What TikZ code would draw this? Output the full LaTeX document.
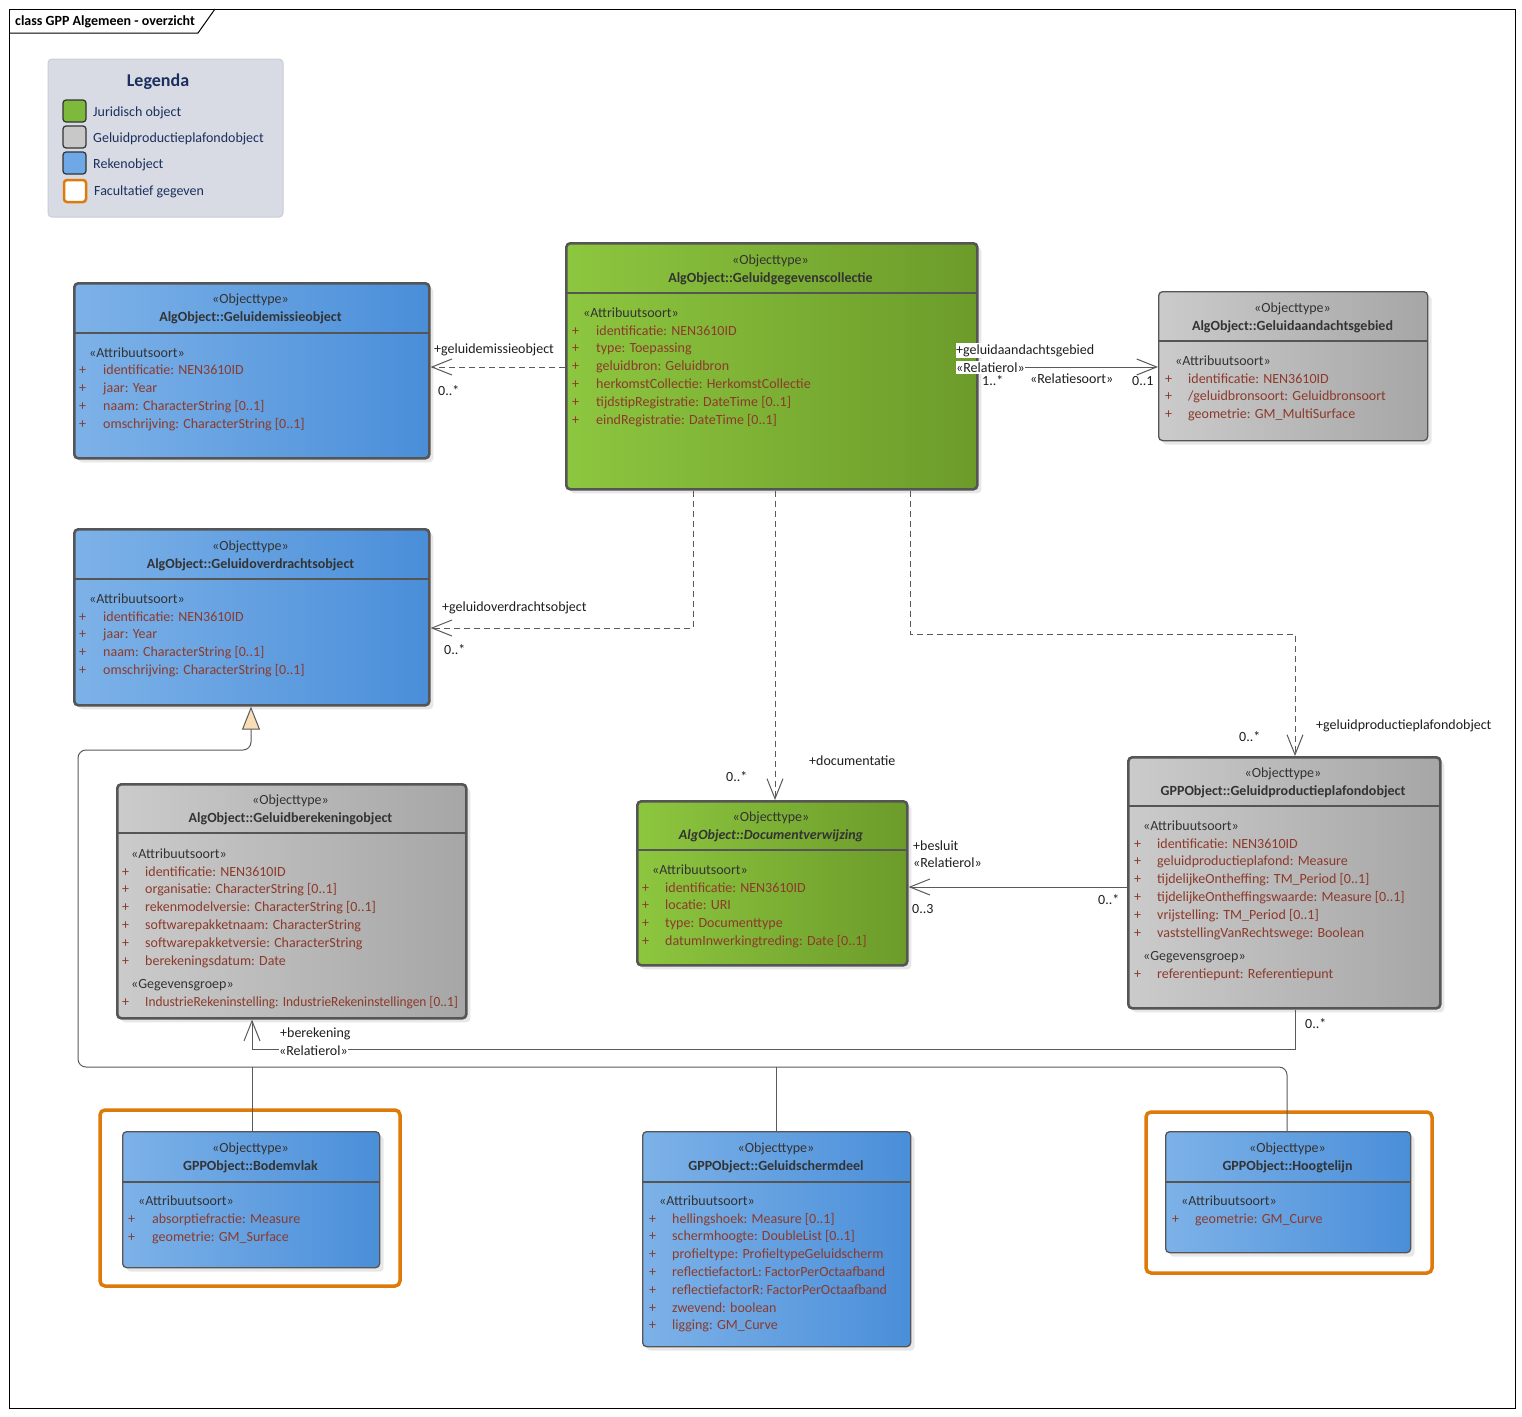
\documentclass[tikz,border=0pt]{standalone}
\usepackage{fontspec}
\setmainfont{Carlito}
\usetikzlibrary{arrows.meta,shadows}
\definecolor{blueL}{HTML}{7DB2E8}
\definecolor{blueR}{HTML}{4A8ED9}
\definecolor{greenL}{HTML}{8DC63F}
\definecolor{greenR}{HTML}{6C9B2A}
\definecolor{grayL}{HTML}{CBCBCB}
\definecolor{grayR}{HTML}{A6A6A6}
\definecolor{bordercol}{HTML}{555555}
\definecolor{attrcol}{HTML}{8C3A2B}
\definecolor{darktext}{HTML}{333333}
\definecolor{lblcol}{HTML}{1E1E1E}
\definecolor{linecol}{HTML}{5A5A5A}
\definecolor{legfill}{HTML}{D8DBE3}
\definecolor{legdraw}{HTML}{C8CCD5}
\definecolor{navy}{HTML}{1B2F5E}
\definecolor{peach}{HTML}{F9DDB6}
\definecolor{orangec}{HTML}{DD7A0A}
\definecolor{swgreen}{HTML}{7DBA3C}
\definecolor{swgray}{HTML}{C8C8C8}
\definecolor{swblue}{HTML}{6FA8E6}
\tikzset{
  every node/.style={font=\fontsize{14pt}{16pt}\selectfont, inner sep=0pt},
  box/.style={rounded corners=4pt, draw=bordercol,
    drop shadow={shadow xshift=4pt, shadow yshift=-4pt, fill=black!18}},
  thickb/.style={line width=2.6pt},
  thinb/.style={line width=1.3pt},
  bluebox/.style={box, left color=blueL, right color=blueR},
  greenbox/.style={box, left color=greenL, right color=greenR},
  graybox/.style={box, left color=grayL, right color=grayR},
  stereo/.style={anchor=base, text=darktext},
  cname/.style={anchor=base, text=darktext, font=\fontsize{14pt}{16pt}\selectfont\bfseries},
  sect/.style={anchor=base west, text=darktext},
  attr/.style={anchor=base west, text=attrcol},
  lbl/.style={anchor=base west, text=lblcol},
  wlbl/.style={lbl, fill=white, inner ysep=1.5pt},
  assoc/.style={draw=linecol, line width=1pt, -{Straight Barb[length=20pt,width=16pt]}},
  dep/.style={assoc, dash pattern=on 6pt off 4pt},
  genline/.style={draw=linecol, line width=1pt, rounded corners=8pt},
  facult/.style={draw=orangec, line width=3.5pt, rounded corners=5pt},
  swatch/.style={draw=black!80, line width=1.2pt, rounded corners=3pt},
  legtext/.style={anchor=base west, text=navy},
}
% name, x1, y1, x2, y2, sep y, style, sep width
\newcommand\cbox[8]{%
  \node[#7, anchor=north west, minimum width={(#4)-(#2)}, minimum height={(#5)-(#3)}] (#1) at (#2,#3) {};
  \draw[draw=bordercol, line width=#8] (#2,#6) -- (#4,#6);
}
% prefix, center x, stereo y, name
\newcommand\chead[4]{%
  \node[stereo] (#1st) at (#2,#3+5) {«Objecttype»};
  \node[cname] (#1nm) at (#2,#3+23) {#4};
}
% prefix, xplus, xtext, ystart, step, list
\newcommand\attrs[6]{%
  \foreach \t [count=\i from 0] in {#6}{
    \node[attr] (#1p\i) at (#2,{#4+5+#5*\i}) {+};
    \node[attr] (#1a\i) at (#3,{#4+5+#5*\i}) {\t};
  }%
}
\begin{document}
\begin{tikzpicture}[x=1pt,y=-1pt]
\useasboundingbox (0,0) rectangle (1522,1416);
\fill[white] (0,0) rectangle (1522,1416);
% frame
\draw[line width=1pt] (9,9) rectangle (1515,1408);
\draw[line width=1pt] (9,33) -- (198,33) -- (215,9);
\node[anchor=base west, font=\fontsize{14pt}{16pt}\selectfont\bfseries] (title) at (15,25) {class GPP Algemeen - overzicht};

% legend
\draw[fill=legfill, draw=legdraw, line width=1pt, rounded corners=4pt] (48,59) rectangle (283,217);
\node[anchor=base, text=navy, font=\fontsize{18pt}{20pt}\selectfont\bfseries] (legtitle) at (158,86) {Legenda};
\draw[swatch, fill=swgreen] (63,100) rectangle (86,122);
\draw[swatch, fill=swgray] (63,126) rectangle (86,148);
\draw[swatch, fill=swblue] (63,152) rectangle (86,174);
\draw[draw=orangec, line width=2.5pt, rounded corners=3pt, fill=white] (64,180) rectangle (86,202);
\node[legtext] (leg1) at (93,116) {Juridisch object};
\node[legtext] (leg2) at (93,142) {Geluidproductieplafondobject};
\node[legtext] (leg3) at (93,168) {Rekenobject};
\node[legtext] (leg4) at (94,195) {Facultatief gegeven};

% orange frames
\draw[facult] (100,1110) rectangle (400,1286);
\draw[facult] (1146,1112) rectangle (1432,1273);

% ---- classes
\cbox{emis}{73}{282}{428}{457}{333}{bluebox,thickb}{2pt}
\chead{emis}{250.5}{298}{AlgObject::Geluidemissieobject}
\node[sect] (emissect) at (89,357) {«Attribuutsoort»};
\attrs{emis}{79}{103}{369}{18}{identificatie: NEN3610ID, jaar: Year, {naam: CharacterString [0..1]}, {omschrijving: CharacterString [0..1]}}

\cbox{coll}{565}{242}{976}{488}{293}{greenbox,thickb}{2pt}
\chead{coll}{770.5}{259}{AlgObject::Geluidgegevenscollectie}
\node[sect] (collsect) at (583,317) {«Attribuutsoort»};
\attrs{coll}{572}{596}{330}{17.8}{identificatie: NEN3610ID, type: Toepassing, geluidbron: Geluidbron, herkomstCollectie: HerkomstCollectie, {tijdstipRegistratie: DateTime [0..1]}, {eindRegistratie: DateTime [0..1]}}

\cbox{aand}{1158}{291}{1427}{440}{341}{graybox,thinb}{1.2pt}
\chead{aand}{1292.5}{307}{AlgObject::Geluidaandachtsgebied}
\node[sect] (aandsect) at (1175,365) {«Attribuutsoort»};
\attrs{aand}{1165}{1188}{378}{17.6}{identificatie: NEN3610ID, /geluidbronsoort: Geluidbronsoort, geometrie: GM\_MultiSurface}

\cbox{overdr}{73}{528}{428}{704}{579}{bluebox,thickb}{2pt}
\chead{overdr}{250.5}{545}{AlgObject::Geluidoverdrachtsobject}
\node[sect] (overdrsect) at (89,603) {«Attribuutsoort»};
\attrs{overdr}{79}{103}{616}{17.8}{identificatie: NEN3610ID, jaar: Year, {naam: CharacterString [0..1]}, {omschrijving: CharacterString [0..1]}}

\cbox{bereken}{116}{783}{465}{1017}{833}{graybox,thickb}{2pt}
\chead{bereken}{290.5}{799}{AlgObject::Geluidberekeningobject}
\node[sect] (berekensect) at (131,858) {«Attribuutsoort»};
\attrs{bereken}{122}{145}{871}{17.8}{identificatie: NEN3610ID, {organisatie: CharacterString [0..1]}, {rekenmodelversie: CharacterString [0..1]}, softwarepakketnaam: CharacterString, softwarepakketversie: CharacterString, berekeningsdatum: Date}
\node[sect] (berekengrp) at (131,988) {«Gegevensgroep»};
\node[attr] (berekengp) at (122,1006) {+};
\node[attr] (berekenga) at (145,1006) {\scalebox{0.955}[1]{IndustrieRekeninstelling: IndustrieRekeninstellingen [0..1]}};

\cbox{docv}{636}{800}{906}{964}{850}{greenbox,thickb}{2pt}
\node[stereo] (docvst) at (771,821) {«Objecttype»};
\node[cname, font=\fontsize{14pt}{16pt}\selectfont\bfseries\itshape] (docvnm) at (771,839) {AlgObject::Documentverwijzing};
\node[sect] (docvsect) at (652,874) {«Attribuutsoort»};
\attrs{docv}{642}{665}{887}{17.8}{identificatie: NEN3610ID, locatie: URI, type: Documenttype, {datumInwerkingtreding: Date [0..1]}}

\cbox{gpp}{1127}{756}{1439}{1007}{806}{graybox,thickb}{2pt}
\chead{gpp}{1283}{772}{GPPObject::Geluidproductieplafondobject}
\node[sect] (gppsect) at (1143,830) {«Attribuutsoort»};
\attrs{gpp}{1134}{1157}{843}{17.8}{identificatie: NEN3610ID, geluidproductieplafond: Measure, {tijdelijkeOntheffing: TM\_Period [0..1]}, {tijdelijkeOntheffingswaarde: Measure [0..1]}, {vrijstelling: TM\_Period [0..1]}, vaststellingVanRechtswege: Boolean}
\node[sect] (gppgrp) at (1143,960) {«Gegevensgroep»};
\node[attr] (gppgp) at (1134,978) {+};
\node[attr] (gppga) at (1157,978) {referentiepunt: Referentiepunt};

\cbox{bodem}{122}{1131}{379}{1267}{1182}{bluebox,thinb}{1.2pt}
\chead{bodem}{250.5}{1147}{GPPObject::Bodemvlak}
\node[sect] (bodemsect) at (138,1205) {«Attribuutsoort»};
\attrs{bodem}{128}{152}{1218}{18}{absorptiefractie: Measure, geometrie: GM\_Surface}

\cbox{scherm}{642}{1131}{910}{1346}{1182}{bluebox,thinb}{1.2pt}
\chead{scherm}{776}{1147}{GPPObject::Geluidschermdeel}
\node[sect] (schermsect) at (659,1205) {«Attribuutsoort»};
\attrs{scherm}{649}{672}{1218}{17.8}{{hellingshoek: Measure [0..1]}, {schermhoogte: DoubleList [0..1]}, profieltype: ProfieltypeGeluidscherm, reflectiefactorL: FactorPerOctaafband, reflectiefactorR: FactorPerOctaafband, zwevend: boolean, ligging: GM\_Curve}

\cbox{hoog}{1165}{1131}{1410}{1252}{1182}{bluebox,thinb}{1.2pt}
\chead{hoog}{1287.5}{1147}{GPPObject::Hoogtelijn}
\node[sect] (hoogsect) at (1181,1205) {«Attribuutsoort»};
\attrs{hoog}{1172}{1195}{1218}{18}{geometrie: GM\_Curve}

% ---- connectors
% a
\draw[dep] (coll.west |- 0,367) -- (emis.east |- 0,367);
\node[lbl] (la1) at (434,353) {+geluidemissieobject};
\node[lbl] (la2) at (438,395) {0..*};
% b
\draw[assoc] (coll.east |- 0,367) -- (aand.west |- 0,367);
\node[wlbl] (lb1) at (956,354) {+geluidaandachtsgebied};
\node[wlbl] (lb2) at (956,372) {«Relatierol»};
\node[lbl] (lb3) at (982,385) {1..*};
\node[lbl] (lb4) at (1030,383) {«Relatiesoort»};
\node[lbl] (lb5) at (1132,385) {0..1};
% c
\draw[dep] (coll.south -| 693,0) -- (693,628) -- (overdr.east |- 0,628);
\node[lbl] (lc1) at (442,611) {+geluidoverdrachtsobject};
\node[lbl] (lc2) at (444,654) {0..*};
% d
\draw[dep] (coll.south -| 775,0) -- (docv.north -| 775,0);
\node[lbl] (ld1) at (726,781) {0..*};
\node[lbl] (ld2) at (809,765) {+documentatie};
% e
\draw[dep] (coll.south -| 910,0) -- (910,634) -- (1295,634) -- (gpp.north -| 1295,0);
\node[lbl] (le1) at (1239,741) {0..*};
\node[lbl] (le2) at (1316,729) {+geluidproductieplafondobject};
% f
\draw[assoc] (gpp.west |- 0,887) -- (docv.east |- 0,887);
\node[lbl] (lf1) at (913,850) {+besluit};
\node[lbl] (lf2) at (913,867) {«Relatierol»};
\node[lbl] (lf3) at (912,913) {0..3};
\node[lbl] (lf4) at (1098,904) {0..*};
% g
\draw[assoc] (gpp.south -| 1295,0) -- (1295,1049) -- (252,1049) -- (bereken.south -| 252,0);
\node[lbl] (lg1) at (280,1037) {+berekening};
\node[wlbl] (lg2) at (279,1055) {«Relatierol»};
\node[lbl] (lg3) at (1305,1028) {0..*};
% generalization
\draw[genline] (scherm.north) -- (scherm.north |- 0,1067);
\draw[genline] (bodem.north -| 252,0) -- (252,1067);
\draw[genline, -{Triangle[length=23pt,width=18pt,fill=peach]}, rounded corners=8pt]
  (hoog.north -| 1287,0) -- (1287,1067) -- (78,1067) -- (78,750) -- (251,750) -- (overdr.south -| 251,0);
\end{tikzpicture}
\end{document}
